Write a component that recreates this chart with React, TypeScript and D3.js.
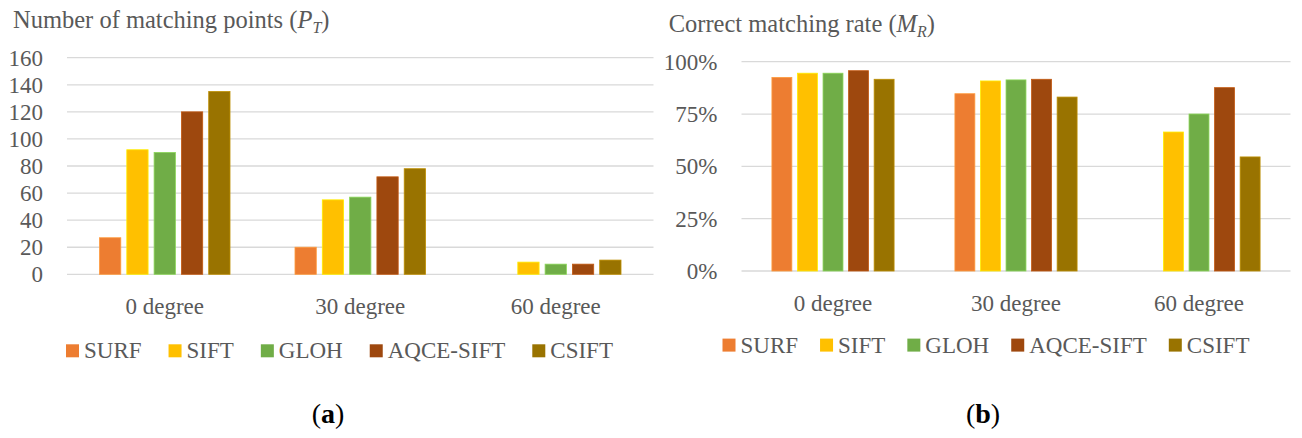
import React, { useRef, useEffect } from "react";
import * as d3 from "d3";

// categories and series
const categories = ["0 degree", "30 degree", "60 degree"];
const methods = ["SURF", "SIFT", "GLOH", "AQCE-SIFT", "CSIFT"];
const methodColors = ["#ED7D31", "#FFC000", "#70AD47", "#9E480E", "#997300"];

// (a) number of matching points
const pointsSURF = [27, 20, 0];
const pointsSIFT = [92, 55, 9];
const pointsGLOH = [90, 57, 7.5];
const pointsAQCE = [120, 72, 7.5];
const pointsCSIFT = [135, 78, 10.5];
const pointTicks = [0, 20, 40, 60, 80, 100, 120, 140, 160];

// (b) correct matching rate
const rateSURF = [0.925, 0.847, 0];
const rateSIFT = [0.945, 0.908, 0.664];
const rateGLOH = [0.945, 0.913, 0.75];
const rateAQCE = [0.957, 0.916, 0.876];
const rateCSIFT = [0.916, 0.831, 0.545];
const rateTicks = [0, 0.25, 0.5, 0.75, 1];

const FONT = "'Liberation Serif', 'Times New Roman', serif";
const TEXT = "#595959";
const GRID = "#d9d9d9";

interface PanelSpec {
  series: number[][];
  ticks: number[];
  domainMax: number;
  tickFormat: (v: number) => string;
  x0: number;
  x1: number;
  yTop: number;
  yBottom: number;
  titleX: number;
  titleY: number;
  titleMain: string;
  titleVar: string;
  titleSub: string;
  catY: number;
  legendX: number;
  legendY: number;
  legendGap: number;
  caption: string;
  captionX: number;
}

const drawPanel = (root: d3.Selection<SVGGElement, unknown, null, undefined>, p: PanelSpec) => {
  const g = root.append("g");

  const x = d3.scaleBand<string>().domain(categories).range([p.x0, p.x1]).paddingInner(0).paddingOuter(0);
  const xs = d3
    .scaleBand<string>()
    .domain(methods)
    .range([0, x.bandwidth()])
    .paddingInner(0.22)
    .paddingOuter(1.19);
  const y = d3.scaleLinear().domain([0, p.domainMax]).range([p.yBottom, p.yTop]);

  // Gridlines
  g.append("g")
    .selectAll("line")
    .data(p.ticks)
    .enter()
    .append("line")
    .attr("x1", p.x0)
    .attr("x2", p.x1)
    .attr("y1", (d) => y(d))
    .attr("y2", (d) => y(d))
    .attr("stroke", GRID)
    .attr("stroke-width", 1.3);

  // Y tick labels
  g.append("g")
    .selectAll("text")
    .data(p.ticks)
    .enter()
    .append("text")
    .attr("x", p.x0 - 24)
    .attr("y", (d) => y(d))
    .attr("dy", "0.35em")
    .attr("text-anchor", "end")
    .attr("fill", TEXT)
    .style("font-size", "23px")
    .text((d) => p.tickFormat(d));

  // Bars
  methods.forEach((m, i) => {
    g.append("g")
      .selectAll("rect")
      .data(p.series[i])
      .enter()
      .append("rect")
      .attr("x", (_, j) => (x(categories[j]) ?? 0) + (xs(m) ?? 0))
      .attr("y", (d) => y(d))
      .attr("width", xs.bandwidth())
      .attr("height", (d) => y(0) - y(d))
      .attr("fill", methodColors[i])
      .attr("stroke", d3.color(methodColors[i])!.brighter(0.6).formatHex())
      .attr("stroke-width", 0.8);
  });

  // Category labels
  g.append("g")
    .selectAll("text")
    .data(categories)
    .enter()
    .append("text")
    .attr("x", (d) => (x(d) ?? 0) + x.bandwidth() / 2)
    .attr("y", p.catY)
    .attr("text-anchor", "middle")
    .attr("fill", TEXT)
    .style("font-size", "23px")
    .text((d) => d);

  // Title
  const t = g
    .append("text")
    .attr("x", p.titleX)
    .attr("y", p.titleY)
    .attr("fill", TEXT)
    .style("font-size", "24.5px");
  t.append("tspan").text(p.titleMain + " (");
  t.append("tspan").style("font-style", "italic").text(p.titleVar);
  t.append("tspan")
    .style("font-style", "italic")
    .style("font-size", "16px")
    .attr("dy", 5)
    .text(p.titleSub);
  t.append("tspan").attr("dy", -5).text(")");

  // Legend
  let lx = p.legendX;
  methods.forEach((m, i) => {
    g.append("rect")
      .attr("x", lx)
      .attr("y", p.legendY - 14)
      .attr("width", 13)
      .attr("height", 13)
      .attr("fill", methodColors[i]);
    const lt = g
      .append("text")
      .attr("x", lx + 18)
      .attr("y", p.legendY)
      .attr("fill", TEXT)
      .style("font-size", "23px")
      .text(m);
    const w = (lt.node() as SVGTextElement).getComputedTextLength();
    lx += 18 + w + p.legendGap;
  });

  // Caption
  const c = root
    .append("text")
    .attr("x", p.captionX)
    .attr("y", 423)
    .attr("text-anchor", "middle")
    .attr("fill", "#000")
    .style("font-size", "28px");
  c.append("tspan").text("(");
  c.append("tspan").style("font-weight", "bold").text(p.caption);
  c.append("tspan").text(")");
};

const App: React.FC = () => {
  const ref = useRef<SVGSVGElement | null>(null);

  useEffect(() => {
    const svg = d3.select(ref.current);
    svg.selectAll("*").remove();
    const root = svg.append("g").style("font-family", FONT);

    drawPanel(root, {
      series: [pointsSURF, pointsSIFT, pointsGLOH, pointsAQCE, pointsCSIFT],
      ticks: pointTicks,
      domainMax: 160,
      tickFormat: (v) => String(v),
      x0: 67,
      x1: 653.5,
      yTop: 57.7,
      yBottom: 274.3,
      titleX: 13,
      titleY: 28.3,
      titleMain: "Number of matching points",
      titleVar: "P",
      titleSub: "T",
      catY: 314.3,
      legendX: 66,
      legendY: 358.3,
      legendGap: 27,
      caption: "a",
      captionX: 328,
    });

    drawPanel(root, {
      series: [rateSURF, rateSIFT, rateGLOH, rateAQCE, rateCSIFT],
      ticks: rateTicks,
      domainMax: 1,
      tickFormat: d3.format(".0%"),
      x0: 741.5,
      x1: 1290.5,
      yTop: 61.7,
      yBottom: 271,
      titleX: 668.7,
      titleY: 31.7,
      titleMain: "Correct matching rate",
      titleVar: "M",
      titleSub: "R",
      catY: 311,
      legendX: 722.5,
      legendY: 352.6,
      legendGap: 22,
      caption: "b",
      captionX: 983,
    });
  }, []);

  return (
    <svg
      ref={ref}
      width={1302}
      height={438}
      style={{ position: "absolute", left: 0, top: 0, background: "#fff" }}
    />
  );
};

export default App;
